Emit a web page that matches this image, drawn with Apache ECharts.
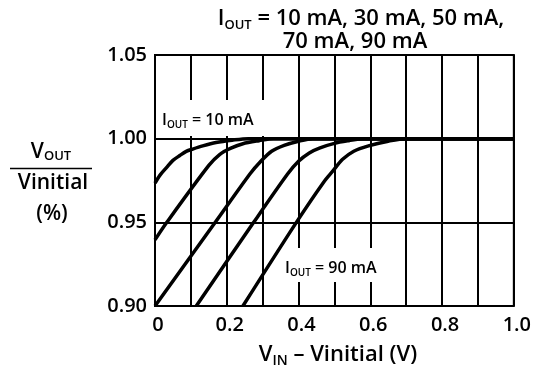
<!DOCTYPE html>
<html><head><meta charset="utf-8">
<script src="https://cdn.jsdelivr.net/npm/echarts@6/dist/echarts.min.js"></script>
<style>html,body{margin:0;padding:0;background:#fff}#c{width:534px;height:370px}</style>
</head><body><div id="c"></div>
<script>
// Tick labels
const xTickLabels = ['0', '0.2', '0.4', '0.6', '0.8', '1.0'];
const yTickLabels = ['0.90', '0.95', '1.00', '1.05'];
const seriesNames = ['IOUT = 10 mA', 'IOUT = 30 mA', 'IOUT = 50 mA', 'IOUT = 70 mA', 'IOUT = 90 mA'];

// VIN - Vinitial (V) and VOUT/Vinitial
const vin10   = [0, 0.014, 0.032, 0.050, 0.069, 0.087, 0.105, 0.133, 0.170, 0.215, 0.26, 1.0];
const ratio10 = [0.9734, 0.9782, 0.9827, 0.9870, 0.9899, 0.9924, 0.9938, 0.9957, 0.9977, 0.9991, 1.0, 1.0];
const vin30   = [0, 0.033, 0.150, 0.180, 0.210, 0.245, 0.290, 0.33, 1.0];
const ratio30 = [0.9395, 0.950, 0.984, 0.9905, 0.9942, 0.9970, 0.9988, 1.0, 1.0];
const vin50   = [0, 0.168, 0.265, 0.295, 0.325, 0.360, 0.400, 0.44, 1.0];
const ratio50 = [0.900, 0.950, 0.979, 0.9865, 0.9925, 0.9960, 0.9985, 1.0, 1.0];
const vin70   = [0.115, 0.275, 0.370, 0.400, 0.430, 0.460, 0.500, 0.540, 0.58, 1.0];
const ratio70 = [0.900, 0.950, 0.979, 0.9865, 0.9915, 0.9945, 0.9972, 0.9988, 1.0, 1.0];
const vin90   = [0.245, 0.394, 0.470, 0.497, 0.522, 0.554, 0.595, 0.650, 0.70, 1.0];
const ratio90 = [0.900, 0.950, 0.974, 0.981, 0.9875, 0.9925, 0.9957, 0.9985, 1.0, 1.0];

const FONT = 'Open Sans';
const FW = 600;
const curves = [[vin10, ratio10], [vin30, ratio30], [vin50, ratio50], [vin70, ratio70], [vin90, ratio90]];
function pairs(xs, ys) { return xs.map((x, i) => [x, ys[i]]); }

function subText(parts, baseSize, subSize, baseLH, extra) {
  return Object.assign({
    text: parts,
    rich: {
      b: { fontSize: baseSize, fontFamily: FONT, fontWeight: FW, fill: '#000', lineHeight: baseLH },
      s: { fontSize: subSize, fontFamily: FONT, fontWeight: FW, fill: '#000', lineHeight: subSize, verticalAlign: 'bottom' }
    },
    fill: '#000', fontFamily: FONT, fontSize: baseSize, fontWeight: FW
  }, extra || {});
}
function plainText(t, size, extra) {
  return Object.assign({ text: t, fontSize: size, fontFamily: FONT, fontWeight: FW, fill: '#000', align: 'center', verticalAlign: 'middle' }, extra || {});
}

const chart = echarts.init(document.getElementById('c'), null, { renderer: 'canvas' });
chart.setOption({
  animation: false,
  backgroundColor: '#fff',
  grid: { left: 155, right: 15, top: 55, bottom: 64, show: true, borderColor: '#000', borderWidth: 2 },
  xAxis: {
    type: 'value', min: 0, max: 1, interval: 0.1,
    axisLine: { show: false }, axisTick: { show: false },
    splitLine: { show: true, lineStyle: { color: '#000', width: 2 } },
    axisLabel: {
      color: '#000', fontFamily: FONT, fontWeight: FW, fontSize: 20, margin: 9, padding: [0, 0, 0, 6],
      formatter: function (v) { const k = Math.round(v * 10); return k % 2 === 0 ? xTickLabels[k / 2] : ''; }
    }
  },
  yAxis: {
    type: 'value', min: 0.90, max: 1.05, interval: 0.05,
    axisLine: { show: false }, axisTick: { show: false },
    splitLine: { show: true, lineStyle: { color: '#000', width: 2 } },
    axisLabel: {
      color: '#000', fontFamily: FONT, fontWeight: FW, fontSize: 20, margin: 8, padding: [6, 0, 0, 0],
      formatter: function (v) { return yTickLabels[Math.round((v - 0.90) / 0.05)]; }
    }
  },
  series: curves.map((c, i) => ({
    name: seriesNames[i], type: 'line', data: pairs(c[0], c[1]),
    showSymbol: false, symbol: 'none', smooth: 0.3, z: 3,
    lineStyle: { color: '#000', width: 3.5 }
  })),
  graphic: [
    { type: 'rect', z: 1, shape: { x: 157, y: 100, width: 110, height: 36 }, style: { fill: '#fff' } },
    { type: 'rect', z: 1, shape: { x: 284, y: 248, width: 110, height: 34 }, style: { fill: '#fff' } },
    { type: 'text', z: 5, x: 162, y: 120, style: subText('{b|I}{s|OUT}{b| = 10 mA}', 16, 10, 20, { align: 'left', verticalAlign: 'middle' }) },
    { type: 'text', z: 5, x: 285, y: 268, style: subText('{b|I}{s|OUT}{b| = 90 mA}', 16, 10, 20, { align: 'left', verticalAlign: 'middle' }) },
    { type: 'text', z: 5, x: 361, y: 19, style: subText('{b|I}{s|OUT}{b| = 10 mA, 30 mA, 50 mA,}', 22, 13, 26, { align: 'center', verticalAlign: 'middle' }) },
    { type: 'text', z: 5, x: 355, y: 42, style: plainText('70 mA, 90 mA', 22) },
    { type: 'text', z: 5, x: 338, y: 355, style: subText('{b|V}{s|IN}{b| – Vinitial (V)}', 22, 14, 26, { align: 'center', verticalAlign: 'middle' }) },
    { type: 'text', z: 5, x: 51, y: 152, style: subText('{b|V}{s|OUT}', 21, 13, 22, { align: 'center', verticalAlign: 'middle' }) },
    { type: 'line', z: 5, shape: { x1: 10, y1: 168.5, x2: 92, y2: 168.5 }, style: { stroke: '#000', lineWidth: 1.5 } },
    { type: 'text', z: 5, x: 53, y: 183, style: plainText('Vinitial', 21) },
    { type: 'text', z: 5, x: 52, y: 214, style: plainText('(%)', 21) }
  ]
});
</script>
</body></html>
